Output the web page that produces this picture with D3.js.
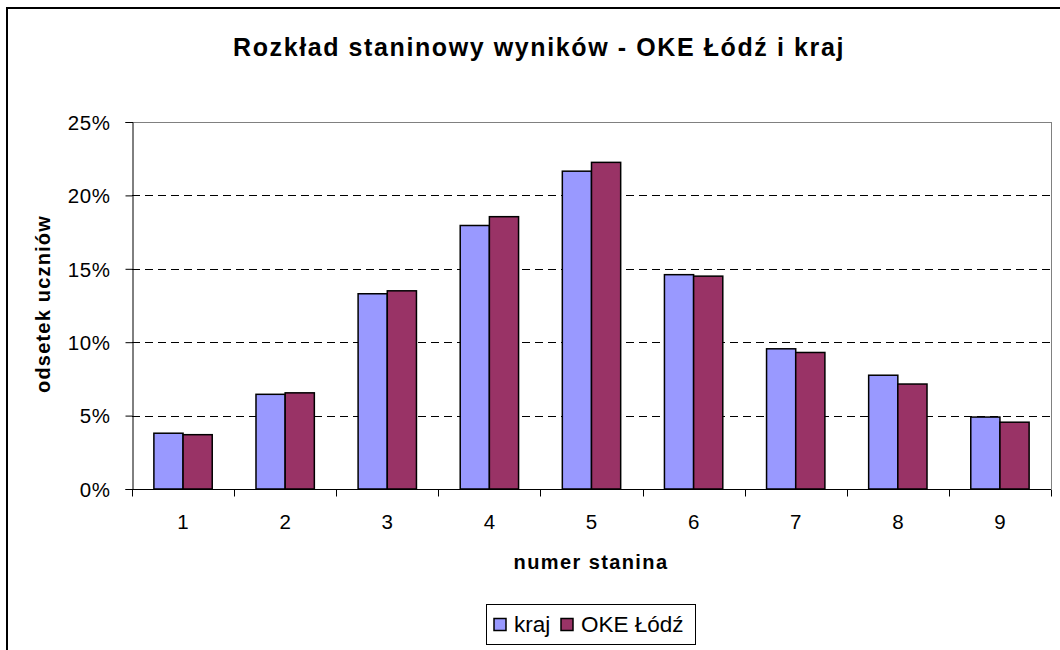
<!DOCTYPE html>
<html><head><meta charset="utf-8">
<script src="https://cdn.jsdelivr.net/npm/d3@7"></script>
<style>body{margin:0;background:#fff}svg{display:block;font-family:"Liberation Sans",Arial,sans-serif}</style>
</head><body><svg id="c" width="1060" height="650"></svg>
<script>
const categories = ["1","2","3","4","5","6","7","8","9"];
const seriesNames = ["kraj","OKE Łódź"];
const kraj = [3.8, 6.45, 13.3, 17.95, 21.65, 14.6, 9.55, 7.75, 4.9];
const oke  = [3.7, 6.55, 13.5, 18.55, 22.25, 14.5, 9.3, 7.15, 4.55];
const yTicks = [0,5,10,15,20,25];
const colors = ["#9999FF","#993366"];
const title = "Rozkład staninowy wyników - OKE Łódź i kraj";

const svg = d3.select("#c");
const L=132,R=1051,T=122,B=489;
// outer frame
svg.append("rect").attr("x",7).attr("y",8).attr("width",1060).attr("height",700)
  .attr("fill","#fff").attr("stroke","#000").attr("stroke-width",2);

const x = d3.scaleBand().domain(categories).range([L,R]).paddingInner(0).paddingOuter(0);
const y = d3.scaleLinear().domain([0,25]).range([B,T]);
const bw = x.bandwidth()/3.5;

// plot area border (gray)
svg.append("line").attr("x1",L).attr("x2",R).attr("y1",T+0.5).attr("y2",T+0.5).attr("stroke","#808080");
svg.append("line").attr("x1",R+0.5).attr("x2",R+0.5).attr("y1",T).attr("y2",B).attr("stroke","#808080");

// gridlines
svg.append("g").selectAll("line").data(yTicks.filter(t=>t>0&&t<25)).join("line")
  .attr("x1",L).attr("x2",R).attr("y1",d=>Math.round(y(d))+0.5).attr("y2",d=>Math.round(y(d))+0.5)
  .attr("stroke","#000").attr("stroke-dasharray","8,5");

// bars
const data = categories.map((c,i)=>({c, v:[kraj[i],oke[i]]}));
const g = svg.append("g");
data.forEach(d=>{
  d.v.forEach((v,j)=>{
    g.append("rect")
      .attr("x", x(d.c)+x.bandwidth()/2 - bw + j*bw)
      .attr("y", y(v)).attr("width", bw).attr("height", B-y(v))
      .attr("fill", colors[j]).attr("stroke","#000").attr("stroke-width",1.5);
  });
});

// y axis
const ya = svg.append("g").attr("transform",`translate(${L+0.5},0)`)
  .call(d3.axisLeft(y).tickValues(yTicks).tickFormat(d=>d+"%").tickSize(7).tickPadding(15));
ya.select(".domain").attr("stroke","#000");
ya.selectAll(".tick line").attr("stroke","#000");
ya.selectAll("text").attr("font-size",20.5).attr("letter-spacing",0.6).attr("fill","#000")
  .attr("font-family","Liberation Sans, Arial, sans-serif").attr("dy","0.36em");

// x axis
const xt = d3.scaleLinear().domain([0,9]).range([L,R]);
const xa = svg.append("g").attr("transform",`translate(0,${B+0.5})`);
xa.append("line").attr("x1",L).attr("x2",R).attr("stroke","#000");
xa.selectAll("line.t").data(d3.range(10)).join("line").attr("class","t")
  .attr("x1",d=>Math.round(xt(d))+0.5).attr("x2",d=>Math.round(xt(d))+0.5).attr("y1",0).attr("y2",7).attr("stroke","#000");
xa.selectAll("text").data(categories).join("text")
  .attr("x",d=>x(d)+x.bandwidth()/2).attr("y",39).attr("text-anchor","middle")
  .attr("font-size",20.5).text(d=>d);

// titles
svg.append("text").attr("x",539).attr("y",56).attr("text-anchor","middle")
  .attr("font-size",25).attr("font-weight","bold").attr("letter-spacing",1.6).text(title);
svg.append("text").attr("x",591).attr("y",569).attr("text-anchor","middle")
  .attr("font-size",20).attr("font-weight","bold").attr("letter-spacing",1.4).text("numer stanina");
svg.append("text").attr("transform","translate(50,304) rotate(-90)").attr("text-anchor","middle")
  .attr("font-size",20).attr("font-weight","bold").attr("letter-spacing",1.2).text("odsetek uczniów");

// legend
const lg = svg.append("g");
lg.append("rect").attr("x",486.5).attr("y",604.5).attr("width",209).attr("height",40)
  .attr("fill","#fff").attr("stroke","#000");
const lx = [494, 561];
seriesNames.forEach((n,i)=>{
  lg.append("rect").attr("x",lx[i]).attr("y",618.5).attr("width",12).attr("height",12)
    .attr("fill",colors[i]).attr("stroke","#000").attr("stroke-width",1.5);
  lg.append("text").attr("x",lx[i]+20).attr("y",632).attr("font-size",22.5).text(n);
});
</script></body></html>
